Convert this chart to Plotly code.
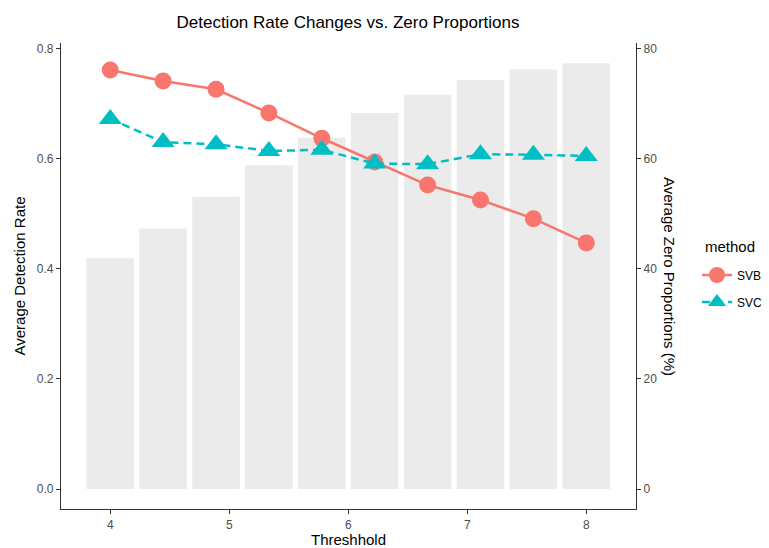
import plotly.graph_objects as go

thresholds = [4.0, 4.444, 4.889, 5.333, 5.778, 6.222, 6.667, 7.111, 7.556, 8.0]
zero_prop = [41.9, 47.3, 53.1, 58.8, 63.8, 68.3, 71.6, 74.3, 76.2, 77.3]
svb = [0.761, 0.741, 0.726, 0.683, 0.637, 0.594, 0.552, 0.525, 0.491, 0.447]
svc = [0.672, 0.630, 0.626, 0.614, 0.616, 0.591, 0.590, 0.608, 0.607, 0.605]
x_ticks = [4, 5, 6, 7, 8]
y_ticks = [0.0, 0.2, 0.4, 0.6, 0.8]
y2_ticks = [0, 20, 40, 60, 80]

FONT = "Liberation Sans, Arial, sans-serif"
W, H = 769, 548
ML, MR, MT, MB = 61, 133, 43, 39
PW = W - ML - MR
PH = H - MT - MB

fig = go.Figure()
fig.add_trace(go.Bar(x=thresholds, y=zero_prop, yaxis="y", width=0.4,
                     marker=dict(color="#EBEBEB", line=dict(width=0)),
                     showlegend=False, hoverinfo="skip"))
fig.add_trace(go.Scatter(x=thresholds, y=svb, yaxis="y2", mode="lines+markers", name="SVB",
                         legend="legend",
                         line=dict(color="#F8766D", width=2.5),
                         marker=dict(symbol="circle", size=17, color="#F8766D")))
fig.add_trace(go.Scatter(x=thresholds, y=svc, yaxis="y2", mode="lines+markers", name="SVC",
                         legend="legend2",
                         line=dict(color="#00BFC4", width=2.5, dash="8px,5px"),
                         marker=dict(symbol="triangle-up", size=20, color="#00BFC4")))

axis_common = dict(showgrid=False, zeroline=False, showline=True, linecolor="#333333",
                   linewidth=1.2, ticks="outside", ticklen=4, tickcolor="#333333",
                   automargin=False,
                   tickfont=dict(family=FONT, size=12, color="#4D4D4D"))
legend_common = dict(xanchor="left", yanchor="middle", bgcolor="rgba(0,0,0,0)",
                     font=dict(family=FONT, size=12, color="black"))
fig.update_layout(
    width=W, height=H,
    margin=dict(l=ML, r=MR, t=MT, b=MB, autoexpand=False),
    plot_bgcolor="white", paper_bgcolor="white",
    font=dict(family=FONT),
    title=dict(text="Detection Rate Changes vs. Zero Proportions", x=348 / W,
               xanchor="center", y=1 - 22 / H, yanchor="middle",
               font=dict(family=FONT, size=17, color="black")),
    xaxis=dict(range=[3.586, 8.418], tickvals=x_ticks,
               title=dict(text="Threshhold", font=dict(family=FONT, size=15, color="black"),
                          standoff=2),
               **axis_common),
    yaxis=dict(range=[-3.63, 81.0], tickvals=y2_ticks, side="right", **axis_common),
    yaxis2=dict(range=[-0.0363, 0.810], tickvals=y_ticks, tickformat=".1f",
                overlaying="y", side="left", **axis_common),
    legend=dict(x=(697 - ML) / PW, y=(H - MB - 275) / PH, **legend_common),
    legend2=dict(x=(697 - ML) / PW, y=(H - MB - 302) / PH, **legend_common),
    barmode="overlay",
)
fig.add_annotation(text="method", xref="paper", yref="paper",
                   x=(703 - ML) / PW, y=(H - MB - 246) / PH, xanchor="left", yanchor="middle",
                   showarrow=False, font=dict(family=FONT, size=15, color="black"))
fig.add_annotation(text="Average Detection Rate", textangle=-90,
                   xref="paper", yref="paper", x=(18.5 - ML) / PW, y=0.5,
                   xanchor="center", yanchor="middle", showarrow=False,
                   font=dict(family=FONT, size=15, color="black"))
fig.add_annotation(text="Average Zero Proportions (%)", textangle=90,
                   xref="paper", yref="paper", x=(670 - ML) / PW, y=0.5,
                   xanchor="center", yanchor="middle", showarrow=False,
                   font=dict(family=FONT, size=15, color="black"))
fig.write_html("out.html", config={"displayModeBar": False},
               post_script="document.body.style.margin='0';document.body.style.overflow='hidden';")
